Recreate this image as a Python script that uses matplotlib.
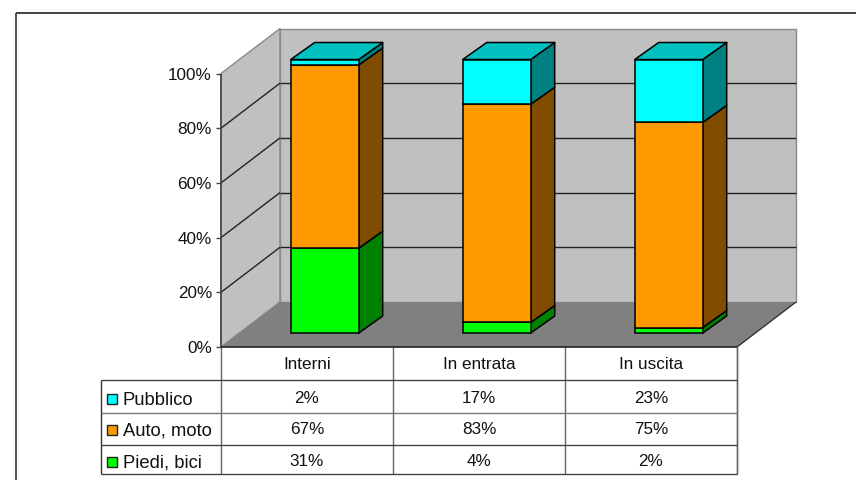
#!/usr/bin/env python

import numpy as np
from matplotlib import pyplot as plt
from matplotlib.patches import Polygon, Rectangle

categories = ['Interni', 'In entrata', 'In uscita']
series_names = ['Pubblico', 'Auto, moto', 'Piedi, bici']
pubblico = [2, 17, 23]
auto_moto = [67, 83, 75]
piedi_bici = [31, 4, 2]
y_ticks = [0, 20, 40, 60, 80, 100]

plt.rcParams['font.family'] = ['Liberation Sans', 'DejaVu Sans']

W, H = 856, 480
fig = plt.figure(figsize=(W / 100, H / 100), dpi=100)
ax = fig.add_axes([0, 0, 1, 1])
ax.set_xlim(0, W)
ax.set_ylim(H, 0)
ax.axis('off')

# layout of the fake 3d box, in pixels
x0, x1 = 221, 737
y0, y100 = 347, 73.5
dx, dy = 59, -45
col_w = (x1 - x0) / 3.
scale = (y0 - y100) / 100.
bar_w = 68
bar_base = 333
bar_dx, bar_dy = 24, -17
line = '#222222'
fs = 12.3


def poly(pts, fc, ec='none', lw=0., z=1):
    ax.add_patch(Polygon(pts, closed=True, fc=fc, ec=ec, lw=lw, zorder=z, joinstyle='round'))


def hline(xa, ya, xb, yb, c=line, lw=1., z=2):
    ax.plot([xa, xb], [ya, yb], color=c, lw=lw, zorder=z, solid_capstyle='butt')


# walls and floor
poly([(x0, y0), (x0 + dx, y0 + dy), (x0 + dx, y100 + dy), (x0, y100)], '#C0C0C0', '#8A8A8A', 1.)
poly([(x0 + dx, y0 + dy), (x1 + dx, y0 + dy), (x1 + dx, y100 + dy), (x0 + dx, y100 + dy)],
     '#C0C0C0', '#8A8A8A', 1.)
poly([(x0, y0), (x1, y0), (x1 + dx, y0 + dy), (x0 + dx, y0 + dy)], '#808080')
hline(x1, y0, x1 + dx, y0 + dy, c='#333333')

# gridlines and y axis
for t in y_ticks:
    y = y0 - t * scale
    if 0 < t < 100:
        hline(x0, y, x0 + dx, y + dy, z=1.5)
        hline(x0 + dx, y + dy, x1 + dx, y + dy, z=1.5)
    hline(x0 - 5, y, x0, y, c='#444444')
    ax.text(x0 - 9, y + 6, '%d%%' % t, ha='right', va='baseline', fontsize=fs, color='#111111')
hline(x0, y100, x0, y0, c='#444444', lw=1.2, z=3)
hline(x0, y0, x1, y0, c='#222222', lw=1.2, z=3)

# stacked bars, each column scaled to 100%
stack = [(piedi_bici, '#00FF00', '#008000'),
         (auto_moto, '#FF9900', '#7F4C00'),
         (pubblico, '#00FFFF', '#008080')]
totals = np.array(pubblico) + np.array(auto_moto) + np.array(piedi_bici)

for i in range(len(categories)):
    left = x0 + col_w * i + 69.7
    right = left + bar_w
    bottom = 0.
    for vals, face, side in stack:
        top = bottom + vals[i] * 100. / totals[i]
        yb = bar_base - bottom * scale
        yt = bar_base - top * scale
        poly([(right, yb), (right + bar_dx, yb + bar_dy), (right + bar_dx, yt + bar_dy), (right, yt)],
             side, 'black', 1.1, z=4)
        ax.add_patch(Rectangle((left, yt), bar_w, yb - yt, fc=face, ec='black', lw=1.1, zorder=5))
        bottom = top
    poly([(left, yt), (right, yt), (right + bar_dx, yt + bar_dy), (left + bar_dx, yt + bar_dy)],
         '#00C0C0', 'black', 1.1, z=4)

# data table below the chart
row_y = [347, 380, 413, 445, 474]
row_base = [403, 434, 466]
tab_left = 101
grey = '#666666'
for k in range(4):
    hline(x0 + col_w * k, row_y[0], x0 + col_w * k, row_y[-1], c=grey, lw=1.)
hline(tab_left, row_y[1], tab_left, row_y[-1], c='#333333')
hline(x1, row_y[0], x1, row_y[-1], c=grey, lw=1.)
for k in range(1, 5):
    hline(tab_left, row_y[k], x1, row_y[k], c='#444444' if k != 2 else '#777777')

for i, name in enumerate(categories):
    ax.text(x0 + col_w * (i + 0.5), 369, name, ha='center', va='baseline',
            fontsize=fs, color='#111111')

rows = [pubblico, auto_moto, piedi_bici]
colors = ['#00FFFF', '#FF9900', '#00FF00']
for r, name in enumerate(series_names):
    yb = row_base[r]
    ax.add_patch(Rectangle((107, yb - 9), 10, 10, fc=colors[r], ec='#222222', lw=1., zorder=3))
    ax.text(123, yb + 2, name, ha='left', va='baseline', fontsize=13.2, color='#111111')
    for i in range(len(categories)):
        ax.text(x0 + col_w * (i + 0.5), yb, '%d%%' % rows[r][i], ha='center', va='baseline',
                fontsize=fs, color='#111111')

# outer frame
hline(16, 13, W, 13, c='#333333', lw=1.3)
hline(16, 13, 16, H, c='#444444', lw=1.3)

plt.savefig('out.png', dpi=100)
